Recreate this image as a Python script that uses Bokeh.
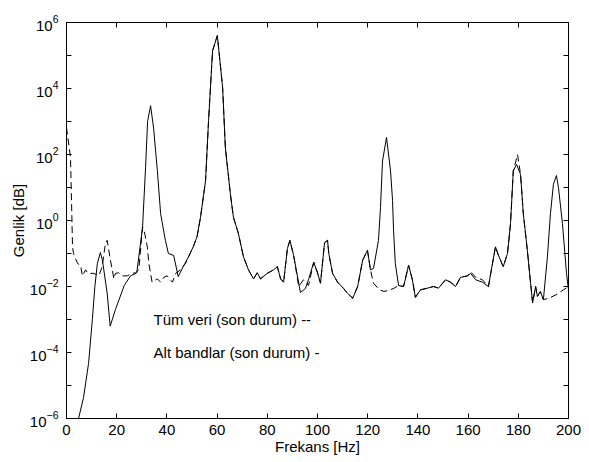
from bokeh.plotting import figure
from bokeh.models import FixedTicker, LogAxis, LinearAxis, ColumnDataSource
from bokeh.core.properties import value
from bokeh.embed import file_html
from bokeh.resources import INLINE

# "Alt bandlar (son durum)" - solid line
freq_sub = [4.8, 6.8, 8.8, 10.3, 11.3, 12.3, 13.5, 14.3, 16.2, 17.4, 19.5, 23.0, 25.5, 28.0,
            30.3, 31.5, 32.3, 33.5, 34.7, 36.2, 37.5, 39.4, 40.6, 42.7, 44.5, 46.5, 48.6,
            50.5, 52.0, 53.4, 55.4, 56.6, 58.2, 60.1, 62.2, 63.3, 65.3, 66.5, 68.5, 70.5,
            72.5, 74.5, 76.0, 77.3, 80.0, 82.5, 84.0, 85.3, 86.5, 88.0, 89.0, 90.5, 93.2,
            95.2, 96.4, 98.5, 100.0, 101.2, 102.8, 104.0, 104.5, 106.0, 108.0, 110.4, 111.9,
            114.0, 116.0, 118.0, 119.9, 121.1, 122.3, 124.3, 125.1, 125.9, 127.5, 129.1,
            129.9, 130.3, 131.0, 132.3, 134.3, 136.3, 137.8, 139.0, 141.0, 143.8, 146.2,
            148.2, 151.0, 153.0, 155.0, 157.0, 159.8, 161.0, 163.0, 165.7, 168.1, 170.9,
            172.1, 174.0, 175.7, 176.9, 178.0, 179.3, 180.9, 182.0, 183.6, 184.9, 185.7,
            186.9, 187.6, 188.8, 190.0, 191.6, 192.8, 194.0, 195.2, 196.0, 197.6, 199.2, 200.0]
amp_sub = [1e-6, 4.4e-6, 4.7e-5, 1e-3, 1e-2, 5e-2, 1.07e-1, 6.3e-2, 6.3e-3, 6.3e-4, 2e-3,
           1.07e-2, 2.1e-2, 2.6e-2,
           0.63, 40, 1e3, 3e3, 630, 32, 1.6, 0.25, 0.1, 8.7e-2, 2e-2, 4e-2, 7.9e-2,
           0.16, 0.32, 1.26, 16, 1.07e3, 1.4e5, 4e5, 1.07e4, 158, 6.3, 1.26, 0.4, 7.9e-2,
           3.2e-2, 1.7e-2, 2.6e-2, 1.7e-2, 2.5e-2, 3.2e-2, 4e-2, 1.7e-2, 1.35e-2, 0.14, 0.25,
           8.7e-2, 6.6e-3,
           8.7e-3, 1.6e-2, 5.4e-2, 2.6e-2, 1.26e-2, 0.21, 0.25, 0.1, 2.5e-2, 1.35e-2, 8.7e-3, 6.3e-3,
           4.4e-3, 1e-2, 6.3e-2, 0.126, 3.2e-2, 3.5e-2, 0.25, 2.5, 63, 330, 32,
           4, 0.5, 5e-2, 1.07e-2, 1e-2, 4.4e-2, 1.6e-2, 4.7e-3, 7.9e-3, 8.9e-3, 1e-2,
           8.9e-3, 1.6e-2, 1.35e-2, 1e-2, 1.9e-2, 2.1e-2, 2.5e-2, 1.6e-2, 1.35e-2, 1e-2, 0.16,
           8.7e-2, 4e-2, 0.1, 0.8, 32, 50, 25, 1.6, 0.126, 1.26e-2, 3.2e-3,
           1e-2, 5e-3, 7e-3, 4e-3, 7.9e-2, 1.6, 12.6, 23, 10, 0.8, 2.5e-2, 7.9e-3]

# "Tüm veri (son durum)" - dashed line
freq_all = [0.0, 1.6, 2.0, 2.4, 2.8, 4.4, 5.6, 6.3, 7.6, 8.5, 10.9, 12.9, 14.2, 15.5, 16.2,
            17.5, 18.9, 19.5, 20.8, 22.2, 24.2, 26.2, 27.5, 28.8, 30.3, 30.8, 32.2, 32.8,
            34.1, 36.2, 37.5, 38.8, 40.1, 42.2, 43.5, 45.4, 47.4, 48.6,
            50.5, 52.0, 53.4, 55.4, 56.6, 58.2, 60.1, 62.2, 63.3, 65.3, 66.5, 68.5, 70.5,
            72.5, 74.5, 76.0, 77.3, 80.0, 82.5, 84.0, 85.3, 86.5, 88.0, 89.0, 90.5, 92.5,
            94.4, 96.4, 98.5, 100.0, 101.2, 102.8, 104.0, 104.5, 106.0, 108.0, 110.4, 111.9,
            114.0, 116.0, 118.0, 119.9, 121.1, 122.3, 124.7, 126.5, 128.5, 130.5, 132.3,
            134.3, 136.3, 137.8, 139.0, 141.0, 143.8, 146.2,
            148.2, 151.0, 153.0, 155.0, 157.0, 159.8, 161.0, 163.0, 165.7, 168.1, 170.9,
            172.1, 174.0, 175.7, 176.9, 178.0, 179.7, 180.9, 182.0, 183.6, 184.9, 185.7,
            186.9, 187.6, 188.8, 190.0, 192.5, 195.0, 200.0]
amp_all = [660, 80, 4, 0.16, 0.1, 5e-2, 4.4e-2, 2.1e-2, 3.2e-2, 2.5e-2, 2.5e-2, 2.1e-2, 4e-2, 0.2, 0.25,
           6.3e-2, 1.7e-2, 2.5e-2, 2.6e-2, 2.1e-2, 2.1e-2, 2.5e-2, 2.6e-2, 3.2e-2, 0.63, 0.56, 0.16, 5e-2,
           1.35e-2, 1.7e-2, 1.35e-2, 1.9e-2, 2.1e-2, 1.35e-2, 2.5e-2, 3.2e-2, 5e-2, 7.9e-2,
           0.16, 0.32, 1.26, 16, 1.07e3, 1.4e5, 4e5, 1.07e4, 158, 6.3, 1.26, 0.4, 7.9e-2,
           3.2e-2, 1.7e-2, 2.6e-2, 1.7e-2, 2.5e-2, 3.2e-2, 4e-2, 1.7e-2, 1.35e-2, 0.14, 0.25, 8.7e-2, 1e-2,
           1.6e-2, 1.07e-2, 5.4e-2, 2.6e-2, 1.26e-2, 0.21, 0.25, 0.1, 2.5e-2, 1.35e-2, 8.7e-3, 6.3e-3,
           4.4e-3, 1e-2, 6.3e-2, 0.126, 3.2e-2, 1.26e-2, 7.9e-3, 7.1e-3, 7.6e-3, 8.9e-3, 1.07e-2,
           1e-2, 4.4e-2, 1.6e-2, 4.7e-3, 7.9e-3, 8.9e-3, 1e-2,
           8.9e-3, 1.6e-2, 1.35e-2, 1e-2, 1.9e-2, 2.1e-2, 2.8e-2, 1.9e-2, 1.6e-2, 1e-2, 0.16,
           8.7e-2, 4e-2, 0.1, 0.8, 32, 100, 25, 1.6, 0.126, 1.26e-2, 3.2e-3,
           1e-2, 5e-3, 7e-3, 4e-3, 4.5e-3, 5.6e-3, 1e-2]

# annotation texts
note_x = [34.7, 34.7]
note_y = [1e-3, 1e-4]
note_text = ["Tüm veri (son durum) --", "Alt bandlar (son durum) -"]

x_ticks = [0, 20, 40, 60, 80, 100, 120, 140, 160, 180, 200]
y_major = [1e-6, 1e-4, 1e-2, 1e0, 1e2, 1e4, 1e6]
y_minor = [1e-5, 1e-3, 1e-1, 1e1, 1e3, 1e5]

FONT = "Liberation Sans"
FS = "15px"

p = figure(width=589, height=462, y_axis_type="log", x_range=(0, 200), y_range=(1e-6, 1e6),
           output_backend="svg", toolbar_location=None,
           min_border_left=66, min_border_right=21, min_border_top=22, min_border_bottom=44)
p.background_fill_color = "white"
p.border_fill_color = "white"
p.outline_line_color = "black"
p.xgrid.visible = False
p.ygrid.visible = False

p.line(freq_all, amp_all, line_color="black", line_width=1, line_dash="7 4")
p.line(freq_sub, amp_sub, line_color="black", line_width=1)

src = ColumnDataSource(dict(x=note_x, y=note_y, t=note_text))
p.text(x="x", y="y", text="t", source=src, text_font=value(FONT), text_font_size=value(FS),
       text_baseline="middle", text_align="left", text_color="black")

yt = FixedTicker(ticks=y_major, minor_ticks=y_minor)
xt = FixedTicker(ticks=x_ticks, minor_ticks=[])


def style(ax, labels=True):
    ax.axis_line_color = "black"
    ax.major_tick_line_color = "black"
    ax.minor_tick_line_color = "black"
    ax.major_tick_in = 5
    ax.major_tick_out = 0
    ax.minor_tick_in = 5
    ax.minor_tick_out = 0
    ax.major_label_text_font = FONT
    ax.major_label_text_font_size = FS if labels else "1px"
    ax.major_label_text_color = "black"
    if not labels:
        ax.major_label_text_alpha = 0
    ax.axis_label_text_font = FONT
    ax.axis_label_text_font_size = FS
    ax.axis_label_text_font_style = "normal"
    ax.axis_label_text_color = "black"


xa = p.xaxis[0]
xa.ticker = xt
xa.axis_label = "Frekans [Hz]"
style(xa)
xa.major_label_standoff = 6
xa.axis_label_standoff = 0

ya = p.yaxis[0]
ya.ticker = yt
ya.axis_label = "Genlik [dB]"
style(ya)
ya.major_label_standoff = 8
ya.axis_label_standoff = 0

ra = LogAxis(ticker=yt)
style(ra, labels=False)
ra.major_label_standoff = 0
p.add_layout(ra, "right")

ta = LinearAxis(ticker=xt)
style(ta, labels=False)
ta.major_label_standoff = 0
p.add_layout(ta, "above")

open("out.html", "w").write(file_html(p, INLINE))
